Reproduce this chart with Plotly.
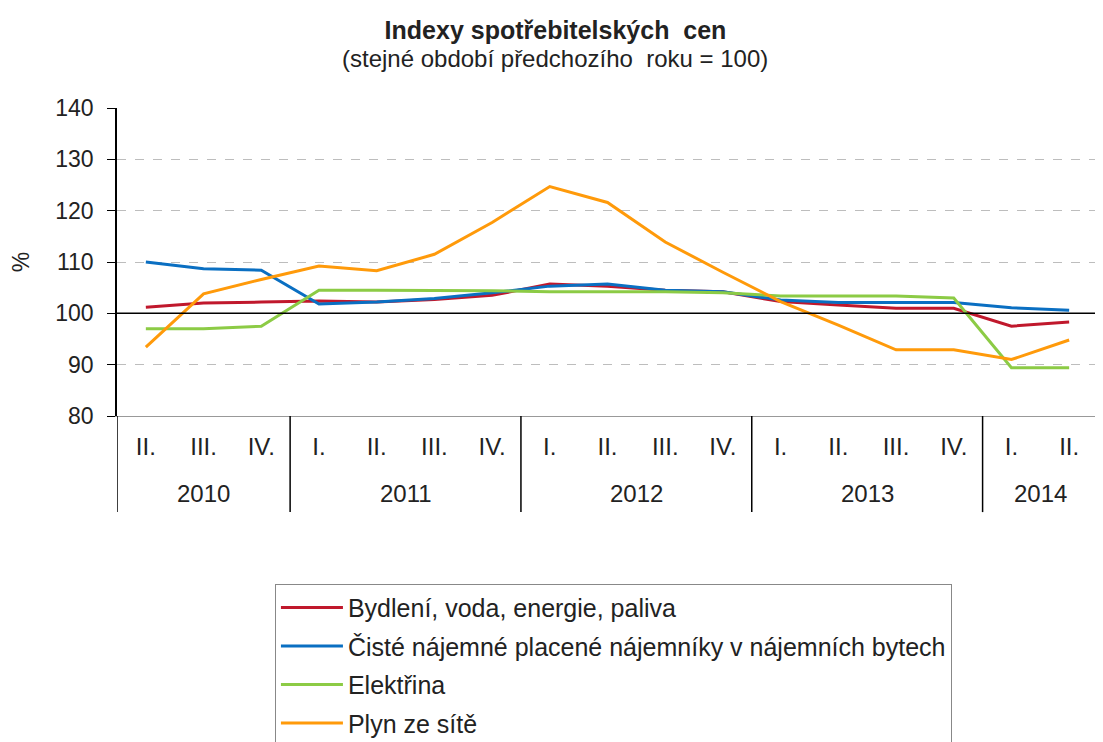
import plotly.graph_objects as go

years = ["2010"] * 3 + ["2011"] * 4 + ["2012"] * 4 + ["2013"] * 4 + ["2014"] * 2
quarters = ["II.", "III.", "IV.",
            "I.", "II.", "III.", "IV.",
            "I.", "II.", "III.", "IV.",
            "I.", "II.", "III.", "IV.",
            "I.", "II."]

bydleni = [101.2, 102.0, 102.2, 102.4, 102.2, 102.7, 103.5, 105.7, 105.3, 104.5, 104.2,
           102.3, 101.6, 101.0, 101.0, 97.5, 98.3]
najemne = [110.0, 108.7, 108.4, 101.8, 102.2, 102.9, 104.0, 105.3, 105.7, 104.5, 104.2,
           102.6, 102.1, 102.1, 102.1, 101.1, 100.6]
elektrina = [97.0, 97.0, 97.5, 104.5, 104.5, 104.5, 104.4, 104.2, 104.2, 104.2, 104.0,
             103.4, 103.4, 103.4, 103.0, 89.4, 89.4]
plyn = [93.4, 103.8, 106.6, 109.2, 108.3, 111.5, 117.7, 124.7, 121.6, 113.9, 108.0,
        102.3, 97.7, 92.9, 92.9, 91.0, 94.8]

series_names = ["Bydlení, voda, energie, paliva",
                "Čisté nájemné placené nájemníky v nájemních bytech",
                "Elektřina",
                "Plyn ze sítě"]
series_values = [bydleni, najemne, elektrina, plyn]
colors = ["#C0182C", "#0A6FC2", "#8CCB45", "#FF9A0A"]

FONT = "Liberation Sans, Arial, sans-serif"
TXT = "#222"

# page body has an 8px default margin, so the figure is drawn 8px smaller
W, H = 1095, 734

idx = list(range(len(quarters)))

fig = go.Figure()
for i, (name, vals, col) in enumerate(zip(series_names, series_values, colors)):
    fig.add_trace(go.Scatter(
        x=idx, y=vals, name=name, mode="lines",
        line=dict(color=col, width=3), legendgroup=f"g{i}"))

# reference line at 100
fig.add_shape(type="line", xref="paper", yref="y", x0=0, x1=1, y0=100, y1=100,
              line=dict(color="black", width=1.5))

# year groups: labels and dividers derived from the category lists
groups = []
for i, y in enumerate(years):
    if not groups or groups[-1][0] != y:
        groups.append([y, i, i])
    else:
        groups[-1][2] = i

annotations = []
for y, a, b in groups:
    annotations.append(dict(
        x=(a + b) / 2, y=-0.253, xref="x", yref="paper", text=y, showarrow=False,
        xanchor="center", yanchor="middle", font=dict(family=FONT, size=24, color=TXT)))
    fig.add_shape(type="line", xref="x", yref="paper", x0=a - 0.5, x1=a - 0.5,
                  y0=0, y1=-0.312, line=dict(color="black", width=1.5))

annotations.append(dict(
    text="(stejné období předchozího  roku = 100)",
    x=0.4465, y=1.162, xref="paper", yref="paper",
    xanchor="center", yanchor="middle", showarrow=False,
    font=dict(family=FONT, size=24, color=TXT)))

fig.update_layout(
    width=W, height=H,
    margin=dict(l=109, r=5, t=100, b=326, autoexpand=False),
    paper_bgcolor="white", plot_bgcolor="white",
    font=dict(family=FONT, size=23, color=TXT),
    title=dict(
        text="<b>Indexy spotřebitelských  cen</b>",
        x=0.5, xref="container", xanchor="center",
        y=1 - 22 / H, yref="container", yanchor="middle",
        font=dict(family=FONT, size=25, color=TXT)),
    annotations=annotations,
    showlegend=True,
    legend=dict(
        x=0.161, y=-0.545, xanchor="left", yanchor="top",
        bordercolor="#888", borderwidth=1, bgcolor="white",
        font=dict(family=FONT, size=25, color=TXT),
        tracegroupgap=3, itemwidth=62),
    xaxis=dict(
        range=[-0.5, len(quarters) - 0.5],
        tickmode="array", tickvals=idx, ticktext=quarters,
        showline=True, linecolor="#999", linewidth=1,
        showgrid=False, ticks="", zeroline=False,
        ticklabelstandoff=9,
        tickfont=dict(family=FONT, size=24, color=TXT)),
    yaxis=dict(
        range=[80, 140], dtick=10, tick0=80,
        showline=True, linecolor="black", linewidth=1.5,
        ticks="outside", ticklen=8, tickcolor="black",
        ticklabelstandoff=9,
        showgrid=True, gridcolor="#BDBDBD", griddash="dash", gridwidth=1,
        zeroline=False,
        tickfont=dict(family=FONT, size=23, color=TXT),
        title=dict(text="%", font=dict(family=FONT, size=23, color=TXT), standoff=20)),
)

fig.write_html("out.html")
